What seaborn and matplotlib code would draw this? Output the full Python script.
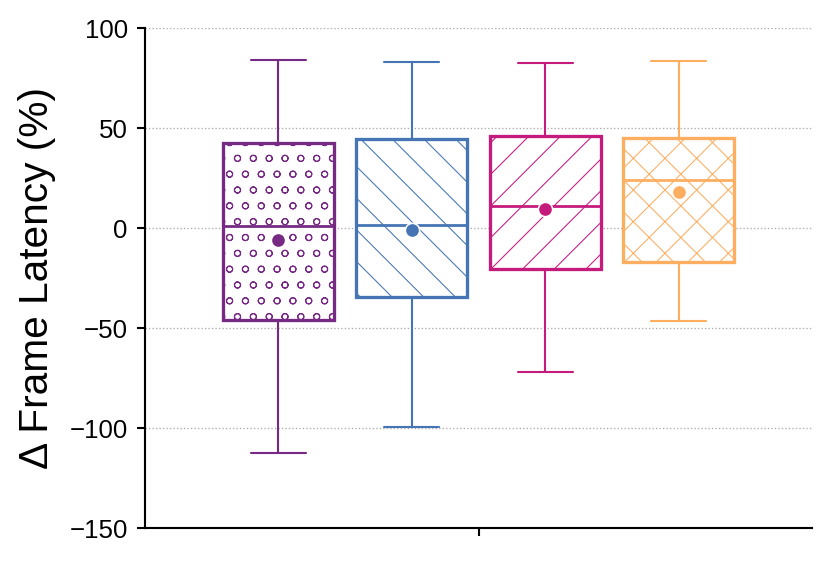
import matplotlib
matplotlib.use("Agg")
import matplotlib.pyplot as plt
import seaborn as sns
import pandas as pd

# ---- data (5 values per group: min, q1, median, q3, max) ----
methods = ["Method A", "Method B", "Method C", "Method D"]
vals_a = [-112.7, -45.8, 0.8, 42.7, 84.2]
vals_b = [-99.7, -34.7, 1.5, 44.3, 83.2]
vals_c = [-72.2, -20.7, 11.0, 45.8, 82.7]
vals_d = [-46.7, -17.0, 24.0, 44.8, 83.7]
colors = ["#762a83", "#4575b4", "#c51b7d", "#fdae61"]
hatches = ["oo", "\\\\", "//", "xx"]
ylabel = "\u0394 Frame Latency (%)"
yticks = [-150, -100, -50, 0, 50, 100]

rows = []
for m, v in zip(methods, [vals_a, vals_b, vals_c, vals_d]):
    for x in v:
        rows.append({"cat": "", "method": m, "value": x})
df = pd.DataFrame(rows)

sns.set_theme(style="white")
plt.rcParams["font.family"] = ["Liberation Sans", "DejaVu Sans"]
plt.rcParams["hatch.linewidth"] = 0.4

DPI = 190
fig = plt.figure(figsize=(830 / DPI, 562 / DPI), dpi=DPI)
ax = fig.add_axes([145 / 830, 34 / 562, 667 / 830, 500 / 562])

sns.boxplot(
    data=df, x="cat", y="value", hue="method", hue_order=methods,
    palette=colors, gap=0.17, width=0.8, showmeans=True, legend=False,
    linewidth=1.0, ax=ax,
)

for cont, col, h in zip(ax.containers, colors, hatches):
    for b in cont.boxes:
        b.set_facecolor("white")
        b.set_edgecolor(col)
        b.set_hatch(h)
        b.set_linewidth(1.25)
    for ln in list(cont.whiskers) + list(cont.caps):
        ln.set_color(col)
        ln.set_linewidth(0.8)
    for ln in cont.medians:
        ln.set_color(col)
        ln.set_linewidth(1.05)
    for ln in cont.means:
        ln.set_marker("o")
        ln.set_markerfacecolor(col)
        ln.set_markeredgecolor("white")
        ln.set_markeredgewidth(0.6)
        ln.set_markersize(5.4)

ax.set_ylim(-150, 100)
ax.set_yticks(yticks)
ax.set_xlim(-0.5, 0.5)
ax.set_xlabel("")
ax.set_xticks([0])
ax.set_xticklabels([""])
ax.set_ylabel(ylabel, fontsize=15.4, labelpad=5, color="black")
ax.tick_params(axis="y", labelsize=9.8, length=3, width=0.8, left=True,
               direction="out", colors="black", labelcolor="black")
ax.tick_params(axis="x", length=3, width=0.8, bottom=True, direction="out", colors="black")
ax.yaxis.grid(True, linestyle=":", linewidth=0.5, color="#aaaaaa")
ax.set_axisbelow(True)
sns.despine(ax=ax)
for s in ["left", "bottom"]:
    ax.spines[s].set_color("black")
    ax.spines[s].set_linewidth(0.8)

fig.savefig("out.png", dpi=DPI)
